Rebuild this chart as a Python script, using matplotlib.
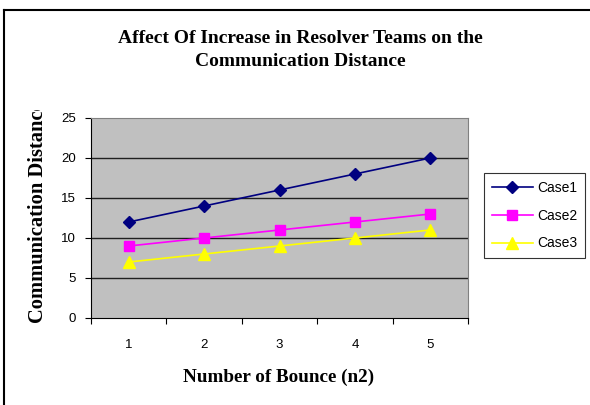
import matplotlib.pyplot as plt
from matplotlib.lines import Line2D
from matplotlib.transforms import Bbox

bounces = [1, 2, 3, 4, 5]
case1 = [12, 14, 16, 18, 20]
case2 = [9, 10, 11, 12, 13]
case3 = [7, 8, 9, 10, 11]
y_ticks = [0, 5, 10, 15, 20, 25]

W, H = 590, 405
fig = plt.figure(figsize=(W / 100, H / 100), dpi=100)
fig.patch.set_facecolor("white")

# partial outer frame (only top and left edges visible)
fig.add_artist(Line2D([4 / W, 1], [1 - 10 / H, 1 - 10 / H], color="black", lw=1.5))
fig.add_artist(Line2D([4 / W, 4 / W], [0, 1 - 10 / H], color="black", lw=1.5))

ax = fig.add_axes([91 / W, 1 - 318 / H, (468 - 91) / W, (318 - 118) / H])
ax.set_facecolor("#C0C0C0")

ax.plot(bounces, case1, color="#000080", marker="D", ms=6.5, lw=1.2, label="Case1")
ax.plot(bounces, case2, color="#FF00FF", marker="s", ms=7, lw=1.2, label="Case2")
ax.plot(bounces, case3, color="#FFFF00", marker="^", ms=8, lw=1.2, label="Case3")

ax.set_xlim(0.5, 5.5)
ax.set_ylim(0, 25)
ax.set_yticks(y_ticks)
ax.set_xticks([b - 0.5 for b in bounces] + [5.5])
ax.set_xticklabels([])
ax.set_xticks(bounces, minor=True)
ax.set_xticklabels([str(b) for b in bounces], minor=True)
ax.tick_params(axis="x", which="major", direction="out", length=4, color="black")
ax.tick_params(axis="x", which="minor", length=0, pad=15, labelsize=9.5)
ax.tick_params(axis="y", direction="out", length=4, labelsize=9.5, pad=7)
for lab in ax.get_xticklabels(minor=True) + ax.get_yticklabels():
    lab.set_fontfamily("Liberation Sans")

for y in y_ticks[1:-1]:
    ax.axhline(y, color="#202020", lw=1, zorder=1)

ax.spines["left"].set_color("black")
ax.spines["bottom"].set_color("black")
ax.spines["top"].set_color("#808080")
ax.spines["right"].set_color("#808080")

fig.text(279 / W, 1 - 377 / H, "Number of Bounce (n2)", ha="center", va="center",
         fontfamily="Liberation Serif", fontweight="bold", fontsize=13.8)

fig.text(300 / W, 1 - 50 / H,
         "Affect Of Increase in Resolver Teams on the\nCommunication Distance",
         ha="center", va="center", fontfamily="Liberation Serif",
         fontweight="bold", fontsize=14, linespacing=1.5)

# y label is cut off at the top in the original
ylab = fig.text(38.5 / W, 1 - 212 / H, "Communication Distance", rotation=90,
                ha="center", va="center", fontfamily="Liberation Serif",
                fontweight="bold", fontsize=14.8)
ylab.set_clip_box(Bbox([[0, 0], [W, H - 110]]))
ylab.set_clip_on(True)

leg = ax.legend(loc="upper left", bbox_to_anchor=(484 / W, 1 - 173 / H),
                bbox_transform=fig.transFigure, frameon=True, fancybox=False,
                prop={"family": "Liberation Sans", "size": 10},
                handlelength=3.0, labelspacing=1.0, borderpad=0.55,
                handletextpad=0.3, borderaxespad=0)
leg.get_frame().set_edgecolor("black")
leg.get_frame().set_linewidth(0.8)

fig.savefig("out.png", dpi=100)
